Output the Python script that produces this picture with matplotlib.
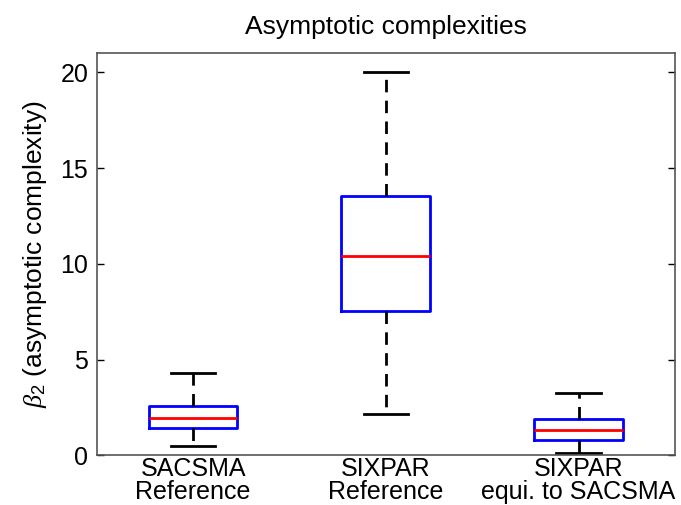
import matplotlib
matplotlib.use("Agg")
import matplotlib.pyplot as plt

plt.rcParams['font.family'] = ['Liberation Sans', 'DejaVu Sans']
plt.rcParams['mathtext.fontset'] = 'custom'
plt.rcParams['mathtext.it'] = 'Liberation Serif:italic'
plt.rcParams['mathtext.rm'] = 'Liberation Sans'

labels = ["SACSMA\nReference", "SIXPAR\nReference", "SIXPAR\nequi. to SACSMA"]
whisker_low = [0.48, 2.17, 0.10]
q1 = [1.44, 7.52, 0.80]
medians = [1.94, 10.43, 1.32]
q3 = [2.57, 13.56, 1.88]
whisker_high = [4.31, 20.0, 3.26]

stats = []
for i in range(len(labels)):
    stats.append({
        'label': labels[i],
        'whislo': whisker_low[i],
        'q1': q1[i],
        'med': medians[i],
        'q3': q3[i],
        'whishi': whisker_high[i],
        'fliers': [],
    })

fig = plt.figure(figsize=(6.81, 5.05), dpi=100)
ax = fig.add_axes([0.142, 0.0984, 0.849, 0.796])

ax.bxp(stats, positions=[1, 2, 3], widths=0.46, showfliers=False,
       boxprops=dict(color='#0000ff', linewidth=2),
       medianprops=dict(color='#ff0000', linewidth=2),
       whiskerprops=dict(color='black', linewidth=2, linestyle=(0, (4.5, 3))),
       capprops=dict(color='black', linewidth=2))

ax.set_xlim(0.5, 3.5)
ax.set_ylim(0, 21)
ax.set_yticks([0, 5, 10, 15, 20])
ax.tick_params(axis='y', direction='in', right=True, length=5, width=1,
               labelsize=18, pad=6)
ax.tick_params(axis='x', length=0, labelsize=18, pad=1)
for lab in ax.get_xticklabels():
    lab.set_linespacing(0.95)
for s in ax.spines.values():
    s.set_color('#555555')
    s.set_linewidth(1.2)

ax.set_ylabel(r'$\beta_2$ (asymptotic complexity)', fontsize=19, labelpad=8)
ax.set_title('Asymptotic complexities', fontsize=19, pad=14)

fig.savefig('out.png', dpi=100)
